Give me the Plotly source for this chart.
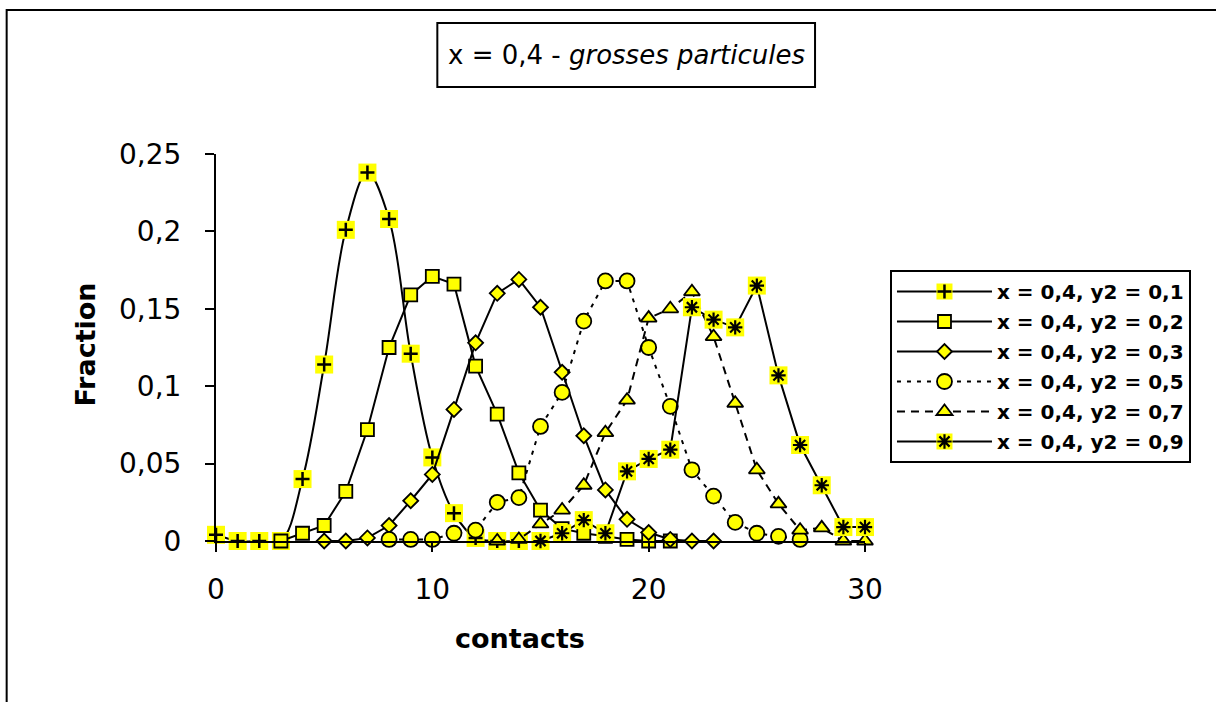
import plotly.graph_objects as go

# ---------------- data ----------------
x_s1 = list(range(0, 15))
y_s1 = [0.004, 0, 0, 0, 0.040, 0.114, 0.201, 0.238, 0.208, 0.121, 0.054, 0.018, 0.002, 0, 0]

x_s2 = list(range(3, 22))
y_s2 = [0, 0.005, 0.010, 0.032, 0.072, 0.125, 0.159, 0.171, 0.166, 0.113, 0.082, 0.044,
        0.020, 0.008, 0.005, 0.003, 0.001, 0, 0]

x_s3 = list(range(5, 24))
y_s3 = [0, 0, 0.002, 0.010, 0.026, 0.043, 0.085, 0.128, 0.160, 0.169, 0.151, 0.109,
        0.068, 0.033, 0.014, 0.0055, 0.001, 0, 0]

x_s4 = list(range(8, 28))
y_s4 = [0.001, 0.001, 0.001, 0.005, 0.007, 0.025, 0.028, 0.074, 0.096, 0.142, 0.168,
        0.168, 0.125, 0.087, 0.046, 0.029, 0.012, 0.005, 0.003, 0.001]

x_s5 = list(range(13, 31))
y_s5 = [0, 0.001, 0.011, 0.020, 0.036, 0.070, 0.091, 0.144, 0.150, 0.161, 0.132, 0.089,
        0.046, 0.024, 0.007, 0.0085, 0, 0]

x_s6 = list(range(15, 31))
y_s6 = [0, 0.005, 0.0135, 0.005, 0.045, 0.053, 0.059, 0.151, 0.143, 0.138, 0.165, 0.107,
        0.062, 0.036, 0.009, 0.009]

names = ["x = 0,4, y2 = 0,1", "x = 0,4, y2 = 0,2", "x = 0,4, y2 = 0,3",
         "x = 0,4, y2 = 0,5", "x = 0,4, y2 = 0,7", "x = 0,4, y2 = 0,9"]

title_text = "x = 0,4 - <i>grosses particules</i>"
x_title = "contacts"
y_title = "Fraction"

# ---------------- style ----------------
FONT = "DejaVu Sans"
YEL = "#FFFF00"
BLK = "black"

# plot area geometry (pixels)
W, H = 1216, 702
L, R = 215.5, 865.0       # x=0 .. x=30
T, B = 154.0, 541.0       # y=0.25 .. y=0


def px(xp):
    return (xp - L) / (R - L)


def py(yp):
    return (B - yp) / (B - T)


fig = go.Figure()

LEG_FS = 20
ITEM_H = LEG_FS * 1.3 + 3
ROW = 30.0
GAP1 = max(ROW - ITEM_H, 0)
GAP2 = 4 * ITEM_H + 5 * GAP1

# series 1 : yellow square background + cross
fig.add_trace(go.Scatter(
    x=x_s1, y=y_s1, name=names[0], mode="lines+markers", legendgroup="g1",
    line=dict(color=BLK, width=2, shape="spline", smoothing=1.0),
    marker=dict(symbol="square", size=18, color=YEL, line=dict(width=0)),
    cliponaxis=False))
fig.add_trace(go.Scatter(
    x=x_s1, y=y_s1, name=" ", mode="markers", legendgroup="g1", legend="legend2",
    marker=dict(symbol="cross-thin", size=10, color=BLK, line=dict(color=BLK, width=2.5)),
    cliponaxis=False, hoverinfo="skip"))

# series 2 : squares
fig.add_trace(go.Scatter(
    x=x_s2, y=y_s2, name=names[1], mode="lines+markers", legendgroup="g2",
    line=dict(color=BLK, width=2),
    marker=dict(symbol="square", size=13, color=YEL, line=dict(color=BLK, width=1.8)),
    cliponaxis=False))

# series 3 : diamonds
fig.add_trace(go.Scatter(
    x=x_s3, y=y_s3, name=names[2], mode="lines+markers", legendgroup="g3",
    line=dict(color=BLK, width=2),
    marker=dict(symbol="diamond", size=11.5, color=YEL, line=dict(color=BLK, width=1.8)),
    cliponaxis=False))

# series 4 : circles, dotted
fig.add_trace(go.Scatter(
    x=x_s4, y=y_s4, name=names[3], mode="lines+markers", legendgroup="g4",
    line=dict(color=BLK, width=2, dash="4px,6px"),
    marker=dict(symbol="circle", size=15, color=YEL, line=dict(color=BLK, width=1.8)),
    cliponaxis=False))

# series 5 : triangles, dashed
fig.add_trace(go.Scatter(
    x=x_s5, y=y_s5, name=names[4], mode="lines+markers", legendgroup="g5",
    line=dict(color=BLK, width=2, dash="8px,6px"),
    marker=dict(symbol="triangle-up", size=14, color=YEL, line=dict(color=BLK, width=1.8)),
    cliponaxis=False))

# series 6 : yellow square background + asterisk
fig.add_trace(go.Scatter(
    x=x_s6, y=y_s6, name=names[5], mode="lines+markers", legendgroup="g6",
    line=dict(color=BLK, width=2),
    marker=dict(symbol="square", size=18, color=YEL, line=dict(width=0)),
    cliponaxis=False))
fig.add_trace(go.Scatter(
    x=x_s6, y=y_s6, name=" ", mode="markers", legendgroup="g6", legend="legend2",
    marker=dict(symbol="asterisk", size=12, color=BLK, line=dict(color=BLK, width=2.2)),
    cliponaxis=False, hoverinfo="skip"))

leg_common = dict(
    x=px(890), y=py(270), xanchor="left", yanchor="top",
    itemwidth=95, traceorder="grouped", borderwidth=2,
)

fig.update_layout(
    width=W, height=H,
    margin=dict(l=L, r=W - R, t=T, b=H - B, pad=0),
    paper_bgcolor="white", plot_bgcolor="white",
    separators=", ",
    font=dict(family=FONT, color=BLK),
    showlegend=True,
    legend=dict(**leg_common, bgcolor="white", bordercolor=BLK,
                tracegroupgap=GAP1,
                font=dict(family=FONT, size=LEG_FS, color=BLK, weight="bold")),
    legend2=dict(**leg_common, bgcolor="rgba(0,0,0,0)", bordercolor="rgba(0,0,0,0)",
                 tracegroupgap=GAP2,
                 font=dict(family=FONT, size=LEG_FS, color="rgba(0,0,0,0)", weight="bold")),
    xaxis=dict(range=[0, 30], dtick=10, tick0=0, showgrid=False, zeroline=False,
               showline=True, linecolor=BLK, linewidth=2,
               ticks="outside", ticklen=9, tickwidth=2, tickcolor=BLK,
               ticklabelstandoff=13,
               tickfont=dict(family=FONT, size=28, color=BLK)),
    yaxis=dict(range=[0, 0.25], dtick=0.05, tick0=0, showgrid=False, zeroline=False,
               showline=True, linecolor=BLK, linewidth=2,
               ticks="outside", ticklen=9, tickwidth=2, tickcolor=BLK,
               ticklabelstandoff=18,
               tickfont=dict(family=FONT, size=28, color=BLK)),
)

# outer chart frame
fig.add_shape(type="rect", xref="paper", yref="paper",
              x0=px(6), x1=px(1240), y0=py(730), y1=py(10),
              line=dict(color=BLK, width=2), fillcolor="rgba(0,0,0,0)", layer="below")

# title box
fig.add_shape(type="rect", xref="paper", yref="paper",
              x0=px(437), x1=px(815), y0=py(87), y1=py(23),
              line=dict(color=BLK, width=2), fillcolor="white")
fig.add_annotation(text=title_text, xref="paper", yref="paper",
                   x=px(626), y=py(55), xanchor="center", yanchor="middle",
                   showarrow=False, font=dict(family=FONT, size=26, color=BLK))

# axis titles
fig.add_annotation(text="<b>" + x_title + "</b>", xref="paper", yref="paper",
                   x=px(520), y=py(638), xanchor="center", yanchor="middle",
                   showarrow=False, font=dict(family=FONT, size=27, color=BLK))
fig.add_annotation(text="<b>" + y_title + "</b>", xref="paper", yref="paper",
                   x=px(84), y=py(345), xanchor="center", yanchor="middle",
                   textangle=-90, showarrow=False,
                   font=dict(family=FONT, size=27, color=BLK))

fig.write_html("out.html", config={"displayModeBar": False},
               post_script="document.body.style.margin='0px';")
